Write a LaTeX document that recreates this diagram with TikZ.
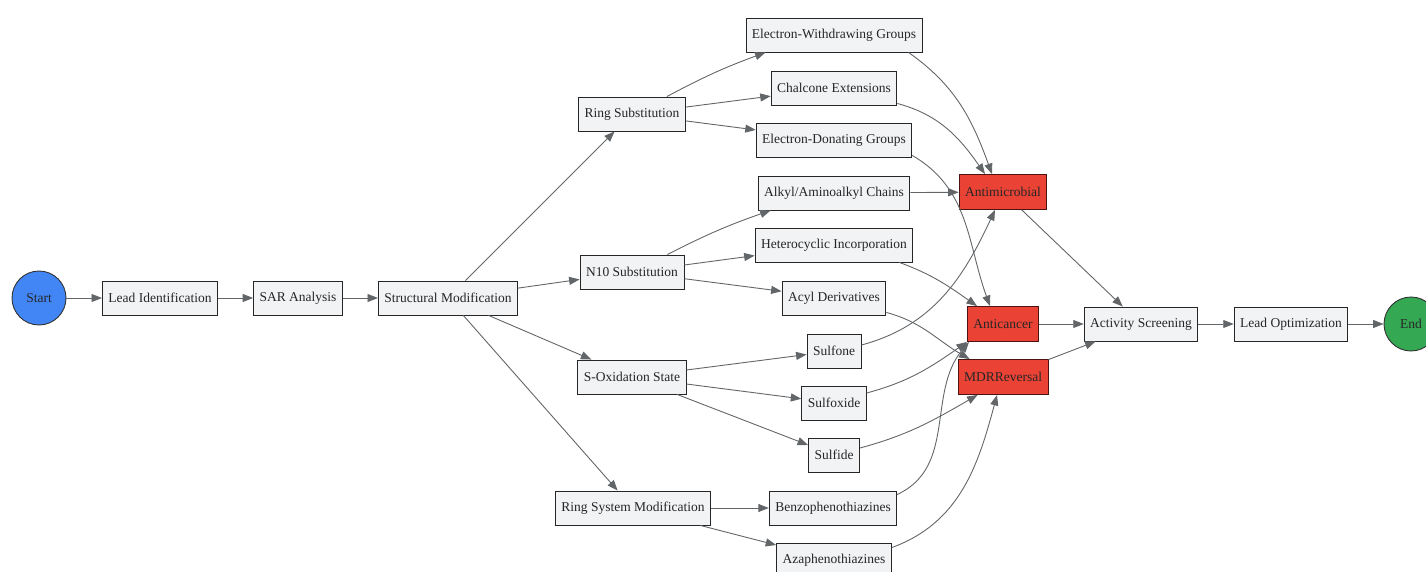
\documentclass[tikz,border=0pt]{standalone}
\usepackage{fontspec}
\setmainfont{Liberation Serif}
\usetikzlibrary{arrows.meta}
\definecolor{boxfill}{HTML}{F2F3F5}
\definecolor{hitred}{HTML}{EA4335}
\definecolor{hitedge}{HTML}{4A1410}
\definecolor{startblue}{HTML}{4285F4}
\definecolor{endgreen}{HTML}{34A853}
\definecolor{linkgray}{HTML}{636669}
\begin{document}
\begin{tikzpicture}[x=1pt,y=1pt,
  every node/.style={font=\fontsize{13.5}{16}\selectfont,text=black!85},
  box/.style={rectangle,draw=black!85,fill=boxfill,line width=0.9pt,minimum height=34pt,inner xsep=6pt},
  hit/.style={box,fill=hitred,draw=hitedge,minimum height=35pt},
  term/.style={circle,draw=black!80,line width=0.9pt,minimum size=54pt,inner sep=0pt},
  link/.style={draw=linkgray,line width=0.9pt,-{Triangle[length=10.5pt,width=8pt]}}]
\useasboundingbox (0,0) rectangle (1426,-572);
% main line
\node[term,fill=startblue] (start) at (39,-298) {Start};
\node[box] (leadid) at (160,-298) {Lead Identification};
\node[box] (sar) at (298,-298) {SAR Analysis};
\node[box] (strmod) at (448,-298) {Structural Modification};
% modification types
\node[box] (ringsub) at (632,-114) {Ring Substitution};
\node[box] (nten) at (632,-272) {N10 Substitution};
\node[box] (soxid) at (632,-377) {S-Oxidation State};
\node[box] (ringsys) at (633,-508) {Ring System Modification};
% variants
\node[box] (ewg) at (834,-35) {Electron-Withdrawing Groups};
\node[box] (chalc) at (834,-88) {Chalcone Extensions};
\node[box] (edg) at (834,-140) {Electron-Donating Groups};
\node[box] (alkyl) at (834,-193) {Alkyl/Aminoalkyl Chains};
\node[box] (hetero) at (834,-245) {Heterocyclic Incorporation};
\node[box] (acyl) at (834,-298) {Acyl Derivatives};
\node[box] (sulfone) at (834,-351) {Sulfone};
\node[box] (sulfoxide) at (834,-403) {Sulfoxide};
\node[box] (sulfide) at (834,-455) {Sulfide};
\node[box] (benzo) at (833,-508) {Benzophenothiazines};
\node[box] (aza) at (834,-560) {Azaphenothiazines};
% activities
\node[hit] (antimic) at (1003,-192) {Antimicrobial};
\node[hit] (anticanc) at (1003,-324) {Anticancer};
\node[hit] (mdr) at (1003,-377) {MDRReversal};
\node[box] (screen) at (1141,-324) {Activity Screening};
\node[box] (leadopt) at (1291,-324) {Lead Optimization};
\node[term,fill=endgreen] (finish) at (1411,-324) {End};

\draw[link] (start) -- (leadid);
\draw[link] (leadid) -- (sar);
\draw[link] (sar) -- (strmod);
\draw[link] (strmod) -- (ringsub);
\draw[link] (strmod) -- (nten);
\draw[link] (strmod) -- (soxid);
\draw[link] (strmod) -- (ringsys);
\draw[link] ([xshift=-19pt]ringsub.north east) to[bend left=4] ([xshift=20pt]ewg.south west);
\draw[link] (ringsub) -- (chalc);
\draw[link] (ringsub) -- (edg);
\draw[link] ([xshift=-17pt]nten.north east) to[bend left=4] ([xshift=13pt]alkyl.south west);
\draw[link] (nten) -- (hetero);
\draw[link] (nten) -- (acyl);
\draw[link] (soxid) -- (sulfone);
\draw[link] (soxid) -- (sulfoxide);
\draw[link] (soxid) -- (sulfide);
\draw[link] (ringsys) -- (benzo);
\draw[link] (ringsys) -- (aza);
% into activities
\draw[link] ([xshift=-14pt]ewg.south east) to[out=-35,in=110] ([xshift=-11pt]antimic.north);
\draw[link] ([yshift=2pt]chalc.south east) to[out=-15,in=125] ([xshift=-18pt]antimic.north);
\draw[link] ([yshift=2pt]edg.south east) to[out=-30,in=110] ([xshift=-13pt]anticanc.north);
\draw[link] (alkyl) -- (antimic);
\draw[link] ([xshift=-14pt]hetero.south east) to[out=-20,in=145] ([xshift=-26pt]anticanc.north);
\draw[link] ([yshift=3pt]acyl.south east) to[out=-15,in=150] ([xshift=12pt]mdr.north west);
\draw[link] ([yshift=6pt]sulfone.east) to[out=15,in=-115] ([xshift=-8pt]antimic.south);
\draw[link] ([yshift=10pt]sulfoxide.east) to[out=15,in=-145] (anticanc.south west);
\draw[link] ([yshift=7pt]sulfide.east) to[out=15,in=-150] ([xshift=20pt]mdr.south west);
\draw[link] ([yshift=-4pt]benzo.north east) to[out=25,in=-130] ([xshift=2pt]anticanc.south west);
\draw[link] ([yshift=-5pt]aza.north east) to[out=20,in=-105] ([xshift=-6pt]mdr.south);
\draw[link] (antimic) -- (screen);
\draw[link] (anticanc) -- (screen);
\draw[link] (mdr) -- (screen);
\draw[link] (screen) -- (leadopt);
\draw[link] (leadopt) -- (finish);
\end{tikzpicture}
\end{document}
